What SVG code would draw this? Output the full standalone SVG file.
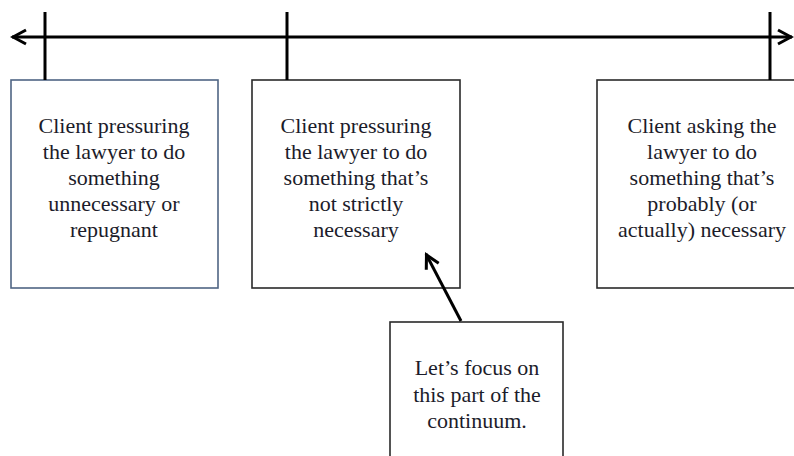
<svg xmlns="http://www.w3.org/2000/svg" width="794" height="456" viewBox="0 0 794 456">
<style>
.box{fill:#fff;stroke:#2a2a2a;stroke-width:1.6}
.t{font-family:"Liberation Serif","DejaVu Serif",serif;font-size:22px;fill:#1c1c2a;text-anchor:middle}
.ln{stroke:#000;stroke-width:3;fill:none}
</style>
<defs>
<marker id="ah2" viewBox="0 0 18 18" refX="16" refY="9" markerWidth="18" markerHeight="18" markerUnits="userSpaceOnUse" orient="auto-start-reverse">
<path d="M2,2 L15,9 L2,16" fill="none" stroke="#000" stroke-width="3"/>
</marker>
</defs>
<g id="node1">
<rect class="box" x="11" y="80" width="207" height="208" style="stroke:#4f6584"/>
<text class="t" x="114" y="133">Client pressuring</text>
<text class="t" x="114" y="159">the lawyer to do</text>
<text class="t" x="114" y="185">something</text>
<text class="t" x="114" y="211">unnecessary or</text>
<text class="t" x="114" y="237">repugnant</text>
</g>
<g id="node2">
<rect class="box" x="252" y="80" width="208" height="208"/>
<text class="t" x="356" y="133">Client pressuring</text>
<text class="t" x="356" y="159">the lawyer to do</text>
<text class="t" x="356" y="185">something that’s</text>
<text class="t" x="356" y="211">not strictly</text>
<text class="t" x="356" y="237">necessary</text>
</g>
<g id="node3">
<rect class="box" x="597" y="80" width="210" height="208"/>
<text class="t" x="702" y="133">Client asking the</text>
<text class="t" x="702" y="159">lawyer to do</text>
<text class="t" x="702" y="185">something that’s</text>
<text class="t" x="702" y="211">probably (or</text>
<text class="t" x="702" y="237">actually) necessary</text>
</g>
<g id="node4">
<rect class="box" x="390" y="322" width="173" height="150"/>
<text class="t" x="477" y="375">Let’s focus on</text>
<text class="t" x="477" y="402">this part of the</text>
<text class="t" x="477" y="428">continuum.</text>
</g>
<g id="connectors">
<line class="ln" x1="12" y1="37" x2="792" y2="37" marker-start="url(#ah2)" marker-end="url(#ah2)"/>
<line class="ln" x1="45" y1="12" x2="45" y2="80"/>
<line class="ln" x1="287" y1="12" x2="287" y2="80"/>
<line class="ln" x1="770" y1="12" x2="770" y2="80"/>
<line class="ln" x1="461" y1="321" x2="426" y2="254" marker-end="url(#ah2)"/>
</g>
</svg>
